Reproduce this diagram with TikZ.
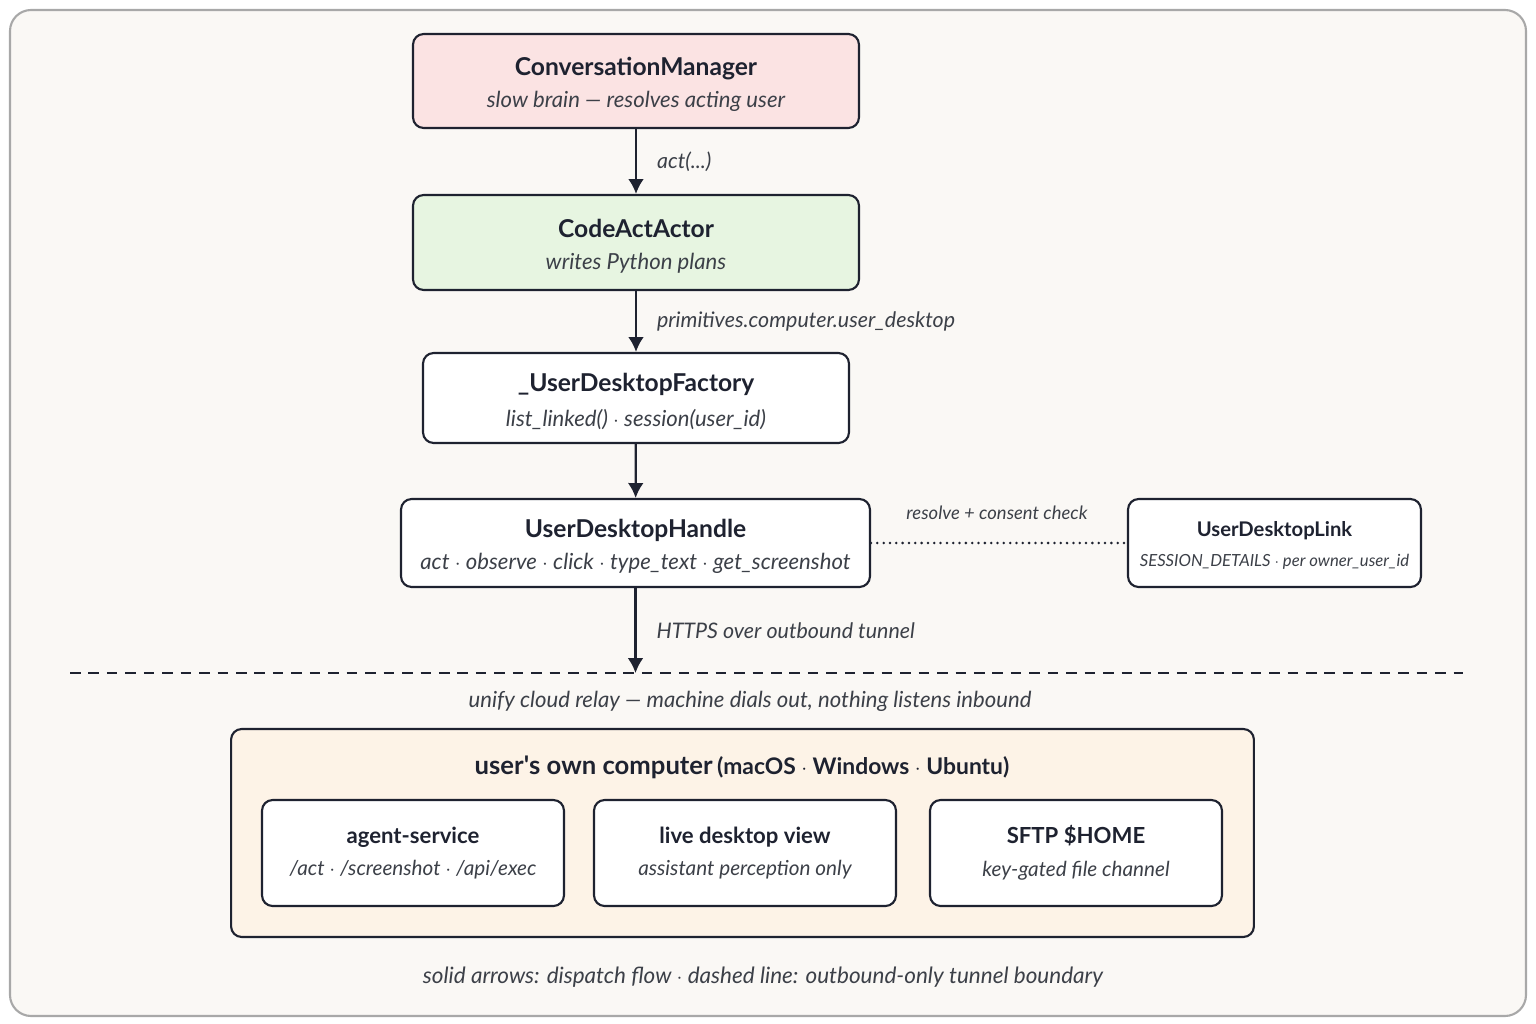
\documentclass[tikz,border=0pt]{standalone}
\usepackage{fontspec}
\setmainfont{Lato}
\usetikzlibrary{arrows.meta}

\definecolor{ink}{HTML}{1E2230}
\definecolor{subtext}{HTML}{3C4048}
\definecolor{paper}{HTML}{FAF8F5}
\definecolor{frame}{HTML}{A8A8A8}
\definecolor{pinkfill}{HTML}{FBE3E3}
\definecolor{greenfill}{HTML}{E7F5E1}
\definecolor{peachfill}{HTML}{FDF3E7}

\newcommand{\boxtext}[2]{{\fontsize{14}{16}\selectfont\bfseries\rule{0pt}{14.5pt}#1}\\[6.5pt]{\fontsize{12.6}{14}\selectfont\itshape\color{subtext}#2}}
\newcommand{\innerboxtext}[2]{{\fontsize{12.6}{15}\selectfont\bfseries #1}\\[6.5pt]{\fontsize{11.8}{13}\selectfont\itshape\color{subtext}#2}}
\newcommand{\smallboxtext}[2]{{\fontsize{11.5}{13}\selectfont\bfseries\rule{0pt}{11pt}#1}\\[5pt]{\fontsize{9.5}{11}\selectfont\itshape\color{subtext}#2}}

\begin{document}
\begin{tikzpicture}[x=0.02cm,y=-0.02cm]
  \tikzstyle{box}=[draw=ink,line width=1.2pt,rounded corners=6pt,fill=white,inner sep=0pt,align=center,text=ink]
  \tikzstyle{edge}=[draw=ink,line width=1.3pt,-{Latex[length=8.5pt,width=9pt]}]
  \tikzstyle{lbl}=[font=\fontsize{12.2}{14}\selectfont\itshape,text=subtext]

    % page and frame
    \useasboundingbox (0,0) rectangle (1536,1024);
    \fill[white] (0,0) rectangle (1536,1024);
    \draw[frame,line width=1.2pt,rounded corners=12pt,fill=paper] (10,10) rectangle (1526,1016);

    % dispatch chain
    \node[box,fill=pinkfill,minimum width=8.92cm,minimum height=1.88cm] (cm) at (636,81)
        {\boxtext{ConversationManager}{slow brain --- resolves acting user}};
    \node[box,fill=greenfill,minimum width=8.92cm,minimum height=1.9cm] (actor) at (636,242.5)
        {\boxtext{CodeActActor}{writes Python plans}};
    \node[box,minimum width=8.52cm,minimum height=1.8cm] (factory) at (636,398)
        {\boxtext{\_UserDesktopFactory}{list\_linked() $\cdot$ session(user\_id)}};
    \node[box,minimum width=9.38cm,minimum height=1.76cm] (handle) at (635.5,543)
        {\boxtext{UserDesktopHandle}{act $\cdot$ observe $\cdot$ click $\cdot$ type\_text $\cdot$ get\_screenshot}};
    \node[box,minimum width=5.86cm,minimum height=1.76cm] (link) at (1274.5,543)
        {\smallboxtext{UserDesktopLink}{SESSION\_DETAILS $\cdot$ per owner\_user\_id}};

    \path[edge] (cm) -- node[lbl,right,xshift=8pt] {act(...)} (actor);
    \path[edge] (actor) -- node[lbl,right,xshift=8pt] {primitives.computer.user\_desktop} (factory);
    \path[edge] (factory) -- (handle);
    \draw[ink,line width=1.6pt,line cap=round,dash pattern=on 0pt off 3.6pt] (handle) -- (link);
    \node[lbl,font=\fontsize{10.5}{12}\selectfont\itshape] (consent) at (997,513) {resolve + consent check};

    % tunnel boundary
    \coordinate (dl) at (70,673);
    \coordinate (dr) at (1463,673);
    \draw[ink,line width=1.1pt,dash pattern=on 6pt off 4.5pt] (dl) -- (dr);
    \path[edge] (handle.south) -- node[lbl,right,xshift=8pt] {HTTPS over outbound tunnel} (handle.south |- dl);
    \node[lbl,font=\fontsize{12.6}{14}\selectfont\itshape] (relay) at (750,701) {unify cloud relay --- machine dials out, nothing listens inbound};

    % user's machine
    \node[box,fill=peachfill,minimum width=20.46cm,minimum height=4.16cm] (computer) at (742.5,833) {};
    \node[text=ink] (comptitle) at (742,767)
        {{\fontsize{14.6}{17}\selectfont\bfseries user\textquotesingle s own computer} {\fontsize{13}{15}\selectfont\bfseries (macOS $\cdot$ Windows $\cdot$ Ubuntu)}};
    \node[box,minimum width=6.04cm,minimum height=2.12cm] (agent) at (413,853)
        {\innerboxtext{agent-service}{/act $\cdot$ /screenshot $\cdot$ /api/exec}};
    \node[box,minimum width=6.04cm,minimum height=2.12cm] (view) at (745,853)
        {\innerboxtext{live desktop view}{assistant perception only}};
    \node[box,minimum width=5.84cm,minimum height=2.12cm] (sftp) at (1076,853)
        {\innerboxtext{SFTP \$HOME}{key-gated file channel}};

    % legend
    \node[lbl,font=\fontsize{12.8}{15}\selectfont\itshape] (legend) at (763,977) {solid arrows: dispatch flow $\cdot$ dashed line: outbound-only tunnel boundary};
\end{tikzpicture}
\end{document}
